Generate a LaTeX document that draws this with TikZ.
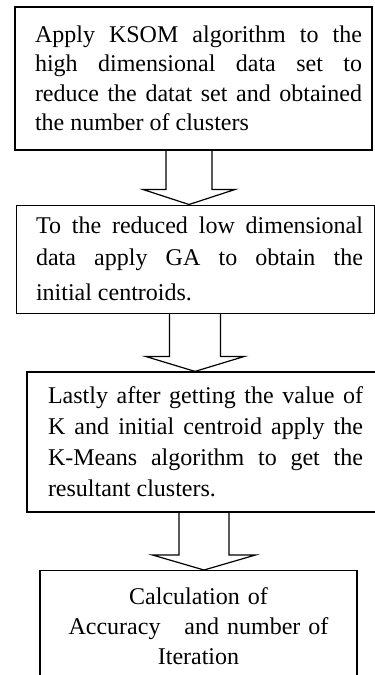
\documentclass[tikz,border=0pt]{standalone}
\usepackage{fontspec}
\setmainfont{Liberation Serif}
\usetikzlibrary{calc}

\begin{document}
\begin{tikzpicture}
  [x=1pt,y=1pt,line join=miter,
   every node/.style={draw,rectangle,line width=1.2pt,inner xsep=10pt,align=justify,
     font=\fontsize{24}{29.5}\selectfont},
   flowarrow/.style={line width=1.2pt}]
  \useasboundingbox (0,0) rectangle (375,-675);
  \clip (0,0) rectangle (375,-675);

  \node (b1) at (193.5,-78.5) [text width=337pt,minimum height=143pt]
    {\leftskip=10pt Apply KSOM algorithm to the\linebreak high dimensional data set to\linebreak
     reduce the datat set and obtained\linebreak the number of clusters\par};
  \node (b2) at (195,-259) [text width=338pt,minimum height=108pt,line width=1pt,
    font=\fontsize{24}{31.5}\selectfont]
    {\leftskip=10pt\rightskip=1pt To the reduced low dimensional\linebreak
     data apply GA to obtain the\vspace{4pt}\linebreak initial centroids.\par};
  \node (b3) at (216,-442) [text width=358pt,minimum height=140pt,
    font=\fontsize{24}{31}\selectfont]
    {\leftskip=11pt\rightskip=32pt Lastly after getting the value of\linebreak
     K and initial centroid apply the\linebreak K-Means algorithm to get the\linebreak
     resultant clusters.\par};
  \node (b4) at (198.5,-570) [anchor=north,text width=297pt,align=center,inner ysep=16.6pt,
    font=\fontsize{24}{30}\selectfont]
    {Calculation of\\Accuracy\ \ \ and number of\\Iteration};

  \foreach \from/\to/\xc/\sw/\hw in {b1/b2/189/23/46,b2/b3/195/25.5/49.5,b3/b4/204/25/51.5}
    \draw[flowarrow] let \p1=(\from.south), \p2=(\to.north) in
      ({(\xc-\sw)*1pt},\y1) -- ({(\xc-\sw)*1pt},{\y2+15pt}) -- ({(\xc-\hw)*1pt},{\y2+15pt})
      -- ({\xc*1pt},\y2) -- ({(\xc+\hw)*1pt},{\y2+15pt}) -- ({(\xc+\sw)*1pt},{\y2+15pt})
      -- ({(\xc+\sw)*1pt},\y1);

\end{tikzpicture}
\end{document}
